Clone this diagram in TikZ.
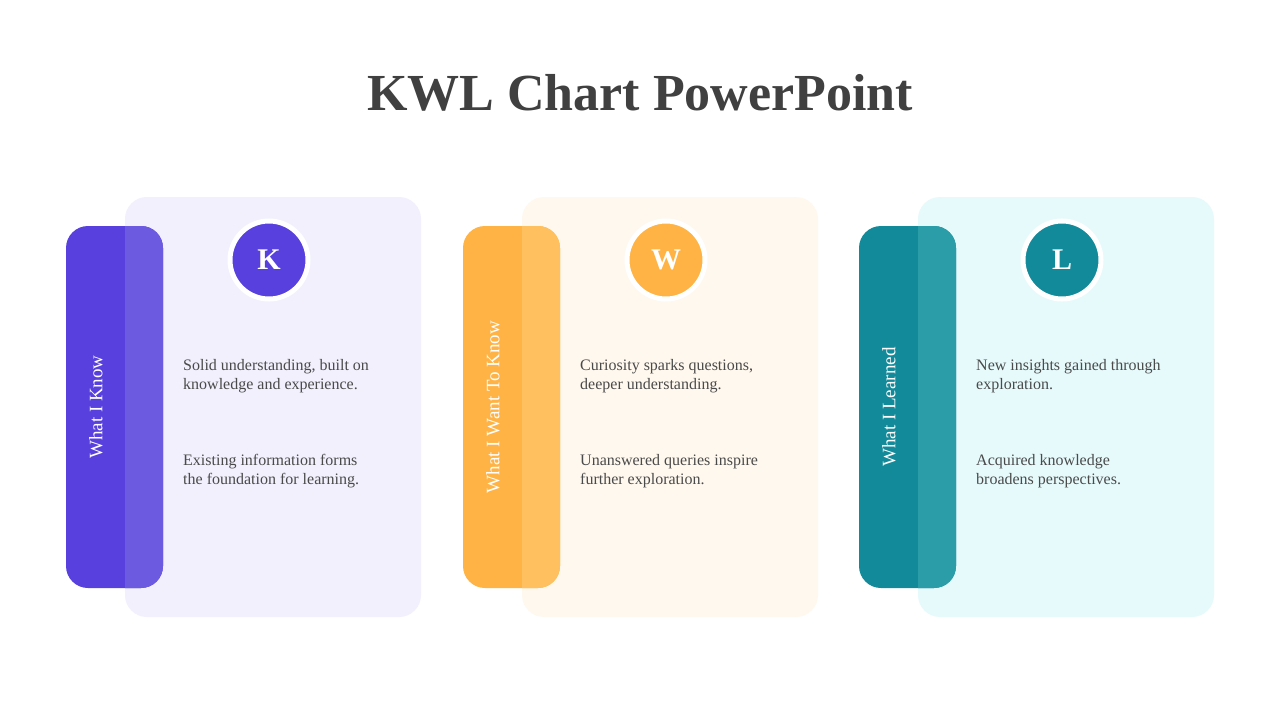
\documentclass[tikz,border=0pt]{standalone}
\usepackage{fontspec}
\setmainfont{Liberation Serif}
\definecolor{tc}{HTML}{404040}
\definecolor{kd}{HTML}{5740DD}\definecolor{kl}{HTML}{6C5AE0}\definecolor{kp}{HTML}{F1F0FC}
\definecolor{wd}{HTML}{FFB344}\definecolor{wl}{HTML}{FFC05F}\definecolor{wp}{HTML}{FFF8EE}
\definecolor{ld}{HTML}{138A9A}\definecolor{ll}{HTML}{2A9DA9}\definecolor{lp}{HTML}{E6FAFC}
\definecolor{bt}{HTML}{4A4A4A}
\tikzset{x=1pt,y=-1pt,
 body/.style={anchor=north west,align=left,text=bt,font=\fontsize{16}{19}\selectfont,inner sep=0pt},
 side/.style={rotate=90,text=white,font=\fontsize{19}{22}\selectfont},
 letter/.style={circle,minimum size=78pt,fill=#1,draw=white,line width=5pt,text=white,font=\bfseries\fontsize{30}{34}\selectfont}}
\newcommand{\kwlcol}[8]{%
 \begin{scope}[xshift=#1]
 \fill[#4,rounded corners=22pt] (125,197) rectangle (421,617);
 \fill[#2,rounded corners=22pt] (66,226) rectangle (163,588);
 \begin{scope}
 \clip[rounded corners=22pt] (125,197) rectangle (421,617);
 \fill[#3,rounded corners=22pt] (66,226) rectangle (163,588);
 \end{scope}
 \node[letter=#2] (c#5) at (269,260) {#5};
 \node[side] (s#5) at (96,407) {#6};
 \node[body] (a#5) at (183,359) {#7};
 \node[body] (b#5) at (183,454) {#8};
 \end{scope}}
\begin{document}
\begin{tikzpicture}
\useasboundingbox (0,0) rectangle (1280,720);
\fill[white] (0,0) rectangle (1280,720);
\node[text=tc,font=\bfseries\fontsize{52}{60}\selectfont] (title) at (640,93) {KWL Chart PowerPoint};
\kwlcol{0pt}{kd}{kl}{kp}{K}{What I Know}{Solid understanding, built on\\knowledge and experience.}{Existing information forms\\the foundation for learning.}
\kwlcol{397pt}{wd}{wl}{wp}{W}{What I Want To Know}{Curiosity sparks questions,\\deeper understanding.}{Unanswered queries inspire\\further exploration.}
\kwlcol{793pt}{ld}{ll}{lp}{L}{What I Learned}{New insights gained through\\exploration.}{Acquired knowledge\\broadens perspectives.}
\end{tikzpicture}
\end{document}
